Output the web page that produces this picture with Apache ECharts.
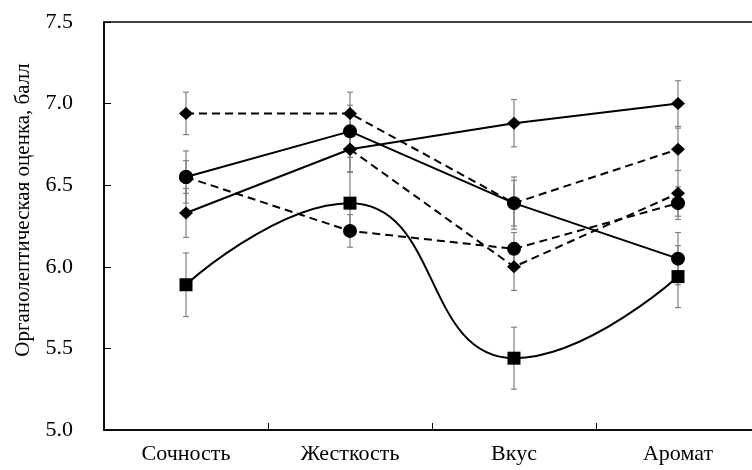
<!DOCTYPE html>
<html>
<head>
<meta charset="utf-8">
<script src="https://cdn.jsdelivr.net/npm/echarts@6/dist/echarts.min.js"></script>
<style>html,body{margin:0;padding:0;background:#fff;overflow:hidden}#c{width:752px;height:470px}</style>
</head>
<body>
<div id="c"></div>
<script>
const categories = ['Сочность', 'Жесткость', 'Вкус', 'Аромат'];
const yTicks = [5.0, 5.5, 6.0, 6.5, 7.0, 7.5];
const yTitle = 'Органолептическая оценка, балл';

const solidDiamond = [6.33, 6.72, 6.88, 7.00];
const solidDiamondErr = [0.15, 0.14, 0.145, 0.14];
const solidCircle = [6.55, 6.83, 6.39, 6.05];
const solidCircleErr = [0.16, 0.16, 0.16, 0.16];
const solidSquare = [5.89, 6.39, 5.44, 5.94];
const solidSquareErr = [0.195, 0.19, 0.19, 0.19];
const dashedDiamondA = [6.94, 6.94, 6.39, 6.72];
const dashedDiamondAErr = [0.13, 0.13, 0.14, 0.13];
const dashedCircle = [6.55, 6.22, 6.11, 6.39];
const dashedCircleErr = [0.1, 0.1, 0.1, 0.1];
const dashedDiamondB = [null, 6.72, 6.00, 6.45];
const dashedDiamondBErr = [0.14, 0.14, 0.145, 0.14];

const FONT = 'Liberation Serif';

const defs = [
  {v: solidDiamond, e: solidDiamondErr, sym: 'diamond', size: [14, 13], dash: 'solid', smooth: false},
  {v: solidCircle, e: solidCircleErr, sym: 'circle', size: 14, dash: 'solid', smooth: false},
  {v: solidSquare, e: solidSquareErr, sym: 'rect', size: 13, dash: 'solid', smooth: true},
  {v: dashedDiamondA, e: dashedDiamondAErr, sym: 'diamond', size: [14, 13], dash: [8, 5], smooth: false},
  {v: dashedCircle, e: dashedCircleErr, sym: 'circle', size: 14, dash: [8, 5], smooth: false},
  {v: dashedDiamondB, e: dashedDiamondBErr, sym: 'diamond', size: [14, 13], dash: [8, 5], smooth: false}
];

const errData = [];
defs.forEach(d => d.v.forEach((v, i) => {
  if (v != null) errData.push([i, v - d.e[i], v + d.e[i]]);
}));

const series = [{
  type: 'custom',
  z: 1,
  silent: true,
  data: errData,
  encode: {x: 0, y: [1, 2]},
  renderItem: function (params, api) {
    const lo = api.coord([api.value(0), api.value(1)]);
    const hi = api.coord([api.value(0), api.value(2)]);
    const w = 3;
    const st = {stroke: '#808080', lineWidth: 1.2};
    return {type: 'group', children: [
      {type: 'line', shape: {x1: lo[0], y1: lo[1], x2: hi[0], y2: hi[1]}, style: st},
      {type: 'line', shape: {x1: lo[0] - w, y1: lo[1], x2: lo[0] + w, y2: lo[1]}, style: st},
      {type: 'line', shape: {x1: hi[0] - w, y1: hi[1], x2: hi[0] + w, y2: hi[1]}, style: st}
    ]};
  }
}];

defs.forEach(d => {
  series.push({
    type: 'line',
    z: 3,
    data: d.v.map(x => x == null ? '-' : x),
    symbol: d.sym,
    symbolSize: d.size,
    showSymbol: true,
    smooth: d.smooth ? 0.5 : false,
    itemStyle: {color: '#000'},
    lineStyle: {color: '#000', width: 2, type: d.dash},
    animation: false
  });
});

const chart = echarts.init(document.getElementById('c'), null, {renderer: 'canvas'});
chart.setOption({
  animation: false,
  backgroundColor: '#fff',
  grid: {left: 104, top: 22, width: 656, bottom: 40, outerBoundsMode: 'none', containLabel: false,
         show: true, borderColor: '#000', borderWidth: 1.5},
  xAxis: {
    type: 'category',
    data: categories,
    boundaryGap: true,
    axisLine: {show: true, lineStyle: {color: '#000', width: 1.5}},
    axisTick: {show: true, inside: true, length: 7, interval: 0, lineStyle: {color: '#000', width: 1}},
    axisLabel: {color: '#000', fontFamily: FONT, fontSize: 22, margin: 13, interval: 0},
    splitLine: {show: false}
  },
  yAxis: {
    type: 'value',
    min: yTicks[0],
    max: yTicks[yTicks.length - 1],
    interval: 0.5,
    axisLine: {show: true, lineStyle: {color: '#000', width: 1.5}},
    axisTick: {show: true, inside: true, length: 7, lineStyle: {color: '#000', width: 1}},
    axisLabel: {color: '#000', fontFamily: FONT, fontSize: 22, margin: 31, formatter: v => v.toFixed(1)},
    splitLine: {show: false}
  },
  graphic: [{
    type: 'text',
    x: 23,
    y: 210,
    rotation: Math.PI / 2,
    style: {text: yTitle, fontFamily: FONT, fontSize: 21, fill: '#000', align: 'center', verticalAlign: 'middle'}
  }],
  series: series
});
</script>
</body>
</html>
